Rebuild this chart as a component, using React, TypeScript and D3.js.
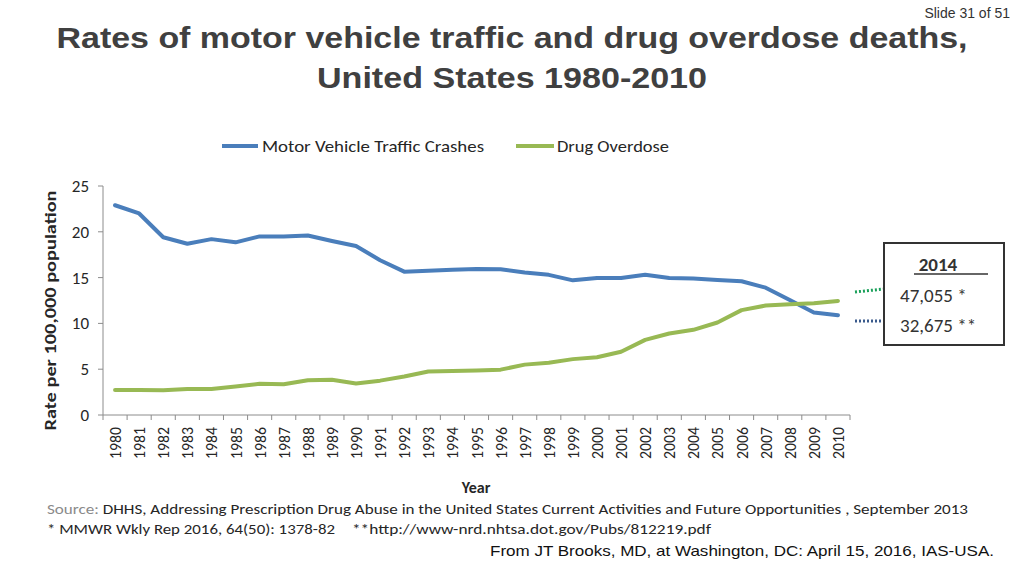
import React from "react";
import * as d3 from "d3";

const years: string[] = d3.range(1980, 2011).map(String);
const motorVehicle: number[] = [
  22.9, 22.0, 19.4, 18.7, 19.2, 18.85, 19.5, 19.5, 19.6, 19.0, 18.45,
  16.9, 15.65, 15.75, 15.85, 15.95, 15.9, 15.55, 15.3, 14.7, 14.95,
  14.95, 15.3, 14.95, 14.9, 14.75, 14.6, 13.9, 12.55, 11.2, 10.9,
];
const drugOverdose: number[] = [
  2.73, 2.73, 2.7, 2.85, 2.85, 3.1, 3.4, 3.35, 3.8, 3.85, 3.45,
  3.75, 4.2, 4.75, 4.8, 4.85, 4.95, 5.5, 5.7, 6.1, 6.3,
  6.9, 8.2, 8.9, 9.3, 10.1, 11.45, 11.95, 12.1, 12.2, 12.45,
];
const yTicks: number[] = [0, 5, 10, 15, 20, 25];
const seriesNames: string[] = ["Motor Vehicle Traffic Crashes", "Drug Overdose"];
const seriesColors: string[] = ["#4a7ebb", "#98b954"];
const boxLines: string[] = ["2014", "47,055 *", "32,675 **"];

const W = 1024;
const H = 576;
const left = 103;
const right = 850;
const top = 186;
const bottom = 415;

export default function App() {
  const x = d3.scaleBand<string>().domain(years).range([left, right]);
  const y = d3.scaleLinear().domain([0, 25]).range([bottom, top]);
  const cx = (d: string) => (x(d) ?? 0) + x.bandwidth() / 2;
  const line = d3
    .line<number>()
    .x((_, i) => cx(years[i]))
    .y((v) => y(v))
    .curve(d3.curveLinear);

  const calibri = "Carlito, Calibri, 'Open Sans', Lato, sans-serif";
  const arial = "'Liberation Sans', Arial, sans-serif";
  const gridGray = "#8c8c8c";
  const textDark = "#262626";

  return (
    <svg
      width={W}
      height={H}
      style={{ position: "absolute", left: 0, top: 0, background: "#fff" }}
    >
      {/* Slide number */}
      <text x={1010} y={18} textAnchor="end" fontFamily={arial} fontSize={14} fill="#333">
        Slide 31 of 51
      </text>
      {/* Title */}
      <text x={512} y={48} textAnchor="middle" fontFamily={arial} fontWeight="bold" fontSize={30} fill="#404040" textLength={911} lengthAdjust="spacingAndGlyphs">
        Rates of motor vehicle traffic and drug overdose deaths,
      </text>
      <text x={512} y={88} textAnchor="middle" fontFamily={arial} fontWeight="bold" fontSize={30} fill="#404040" textLength={390} lengthAdjust="spacingAndGlyphs">
        United States 1980-2010
      </text>

      {/* Legend */}
      <line x1={222} x2={258} y1={146} y2={146} stroke={seriesColors[0]} strokeWidth={4} />
      <text x={262} y={152} fontFamily={calibri} fontSize={16} fill={textDark} textLength={222} lengthAdjust="spacingAndGlyphs">
        {seriesNames[0]}
      </text>
      <line x1={516} x2={554} y1={146} y2={146} stroke={seriesColors[1]} strokeWidth={4} />
      <text x={557} y={152} fontFamily={calibri} fontSize={16} fill={textDark} textLength={112} lengthAdjust="spacingAndGlyphs">
        {seriesNames[1]}
      </text>

      {/* Y axis */}
      <line x1={left} x2={left} y1={top} y2={bottom} stroke={gridGray} strokeWidth={1} />
      {yTicks.map((t) => (
        <g key={t}>
          <line x1={left - 5} x2={left} y1={y(t)} y2={y(t)} stroke={gridGray} />
          <text x={89} y={y(t) + 6} textAnchor="end" fontFamily={calibri} fontSize={17} fill={textDark}>
            {t}
          </text>
        </g>
      ))}
      <text
        transform={`translate(56,${(top + bottom) / 2 + 10}) rotate(-90)`}
        textAnchor="middle"
        fontFamily={calibri}
        fontWeight="bold"
        fontSize={16}
        fill={textDark}
        textLength={240}
        lengthAdjust="spacingAndGlyphs"
      >
        Rate per 100,000 population
      </text>

      {/* X axis */}
      <line x1={left} x2={right} y1={bottom} y2={bottom} stroke={gridGray} strokeWidth={1} />
      {years.map((yr) => (
        <line key={"t" + yr} x1={x(yr) ?? 0} x2={x(yr) ?? 0} y1={bottom} y2={bottom + 5} stroke={gridGray} />
      ))}
      <line x1={right} x2={right} y1={bottom} y2={bottom + 5} stroke={gridGray} />
      {years.map((yr) => (
        <text
          key={yr}
          transform={`translate(${cx(yr) + 6},${bottom + 12}) rotate(-90)`}
          textAnchor="end"
          fontFamily={calibri}
          fontSize={16}
          fill={textDark}
          textLength={32}
          lengthAdjust="spacingAndGlyphs"
        >
          {yr}
        </text>
      ))}
      <text x={476} y={493} textAnchor="middle" fontFamily={calibri} fontWeight="bold" fontSize={16} fill={textDark}>
        Year
      </text>

      {/* Lines */}
      <path d={line(motorVehicle) ?? ""} fill="none" stroke={seriesColors[0]} strokeWidth={4} strokeLinejoin="round" strokeLinecap="round" />
      <path d={line(drugOverdose) ?? ""} fill="none" stroke={seriesColors[1]} strokeWidth={4} strokeLinejoin="round" strokeLinecap="round" />

      {/* Dotted connectors */}
      <line x1={855} x2={884} y1={292} y2={289} stroke="#1aa05a" strokeWidth={3} strokeDasharray="2,2" />
      <line x1={855} x2={884} y1={321} y2={321} stroke="#3a5a8c" strokeWidth={3} strokeDasharray="2,2" />

      {/* 2014 box */}
      <rect x={884} y={243} width={120} height={102} fill="#fff" stroke="#333" strokeWidth={2} />
      <text x={938} y={271} textAnchor="middle" fontFamily={calibri} fontWeight="bold" fontSize={19} fill="#333">
        {boxLines[0]}
      </text>
      <line x1={914} x2={988} y1={274} y2={274} stroke="#333" strokeWidth={1.5} />
      <text x={900} y={302} fontFamily={calibri} fontSize={19} fill="#333">
        {boxLines[1]}
      </text>
      <text x={900} y={332} fontFamily={calibri} fontSize={19} fill="#333">
        {boxLines[2]}
      </text>

      {/* Footer */}
      <text x={47} y={514} fontFamily={calibri} fontSize={14} fill={textDark} textLength={921} lengthAdjust="spacingAndGlyphs">
        <tspan fill="#8a8a8a">Source:</tspan> DHHS, Addressing Prescription Drug Abuse in the United States  Current Activities and Future Opportunities , September 2013
      </text>
      <text x={47} y={534} fontFamily={calibri} fontSize={14} fill={textDark} textLength={288} lengthAdjust="spacingAndGlyphs">
        * MMWR Wkly Rep 2016, 64(50): 1378-82
      </text>
      <text x={352} y={534} fontFamily={calibri} fontSize={14} fill={textDark} textLength={359} lengthAdjust="spacingAndGlyphs">
        **http://www-nrd.nhtsa.dot.gov/Pubs/812219.pdf
      </text>
      <text x={490} y={556} fontFamily={arial} fontSize={15} fill="#111" textLength={504} lengthAdjust="spacingAndGlyphs">
        From JT Brooks, MD, at Washington, DC: April 15, 2016, IAS-USA.
      </text>
    </svg>
  );
}
